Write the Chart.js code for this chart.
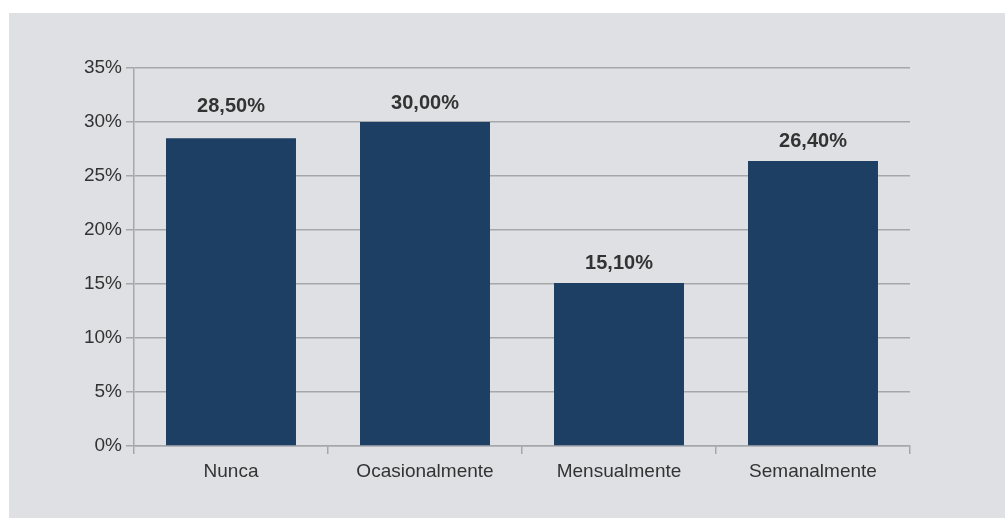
<!DOCTYPE html>
<html>
<head>
<meta charset="utf-8">
<script src="https://cdn.jsdelivr.net/npm/chart.js@4/dist/chart.umd.min.js"></script>
<style>
  html, body { margin: 0; padding: 0; background: #ffffff; }
  #panel {
    position: absolute; left: 9px; top: 13px;
    width: 996px; height: 505px;
    background: #dfe0e4;
  }
</style>
</head>
<body>
<div id="panel"><canvas id="freqChart" width="996" height="505"></canvas></div>
<script>
// chart data
const categories = ['Nunca', 'Ocasionalmente', 'Mensualmente', 'Semanalmente'];
const percentages = [28.5, 30.0, 15.1, 26.4];
const yTicks = [0, 5, 10, 15, 20, 25, 30, 35];

const fmt = v => v.toFixed(2).replace('.', ',') + '%';

// draw value labels above each bar
const barLabels = {
    id: 'barLabels',
    afterDatasetsDraw(chart, args, opts) {
        const ctx = chart.ctx;
        const meta = chart.getDatasetMeta(0);
        ctx.save();
        ctx.font = 'bold 20px "Liberation Sans", Arial, sans-serif';
        ctx.fillStyle = '#333333';
        ctx.textAlign = 'center';
        ctx.textBaseline = 'middle';
        meta.data.forEach(function (bar, i) {
            const lift = (opts.lift && opts.lift[i]) || 0;
            ctx.fillText(fmt(percentages[i]), bar.x, bar.y - 19 - lift);
        });
        ctx.restore();
    }
};

new Chart(document.getElementById('freqChart').getContext('2d'), {
    type: 'bar',
    data: {
        labels: categories,
        datasets: [{
            data: percentages,
            backgroundColor: '#1c3f63',
            borderWidth: 0,
            barPercentage: 0.67,
            categoryPercentage: 1.0
        }]
    },
    options: {
        responsive: false,
        animation: false,
        layout: { padding: { left: 0, right: 95, top: 55, bottom: 0 } },
        plugins: {
            legend: { display: false },
            title: { display: false },
            tooltip: { enabled: false },
            barLabels: { lift: [13, 0, 0, 0] }
        },
        scales: {
            x: {
                grid: {
                    offset: true,
                    drawOnChartArea: false,
                    drawTicks: true,
                    tickLength: 8,
                    color: '#a6a7ab',
                    lineWidth: 1.5
                },
                border: { color: '#a6a7ab', width: 1.5 },
                ticks: {
                    padding: 6,
                    color: '#333333',
                    font: { family: '"Liberation Sans", Arial, sans-serif', size: 19 }
                },
                afterFit: function (scale) { scale.height = 72; }
            },
            y: {
                min: 0,
                max: 35,
                afterBuildTicks: function (scale) {
                    scale.ticks = yTicks.map(v => ({ value: v }));
                },
                grid: {
                    color: '#a6a7ab',
                    lineWidth: 1.5,
                    tickLength: 8
                },
                border: { color: '#a6a7ab', width: 1.5 },
                ticks: {
                    padding: 4,
                    color: '#333333',
                    font: { family: '"Liberation Sans", Arial, sans-serif', size: 19 },
                    callback: function (value) { return value + '%'; }
                },
                afterFit: function (scale) { scale.width = 125; }
            }
        }
    },
    plugins: [barLabels]
});
</script>
</body>
</html>
